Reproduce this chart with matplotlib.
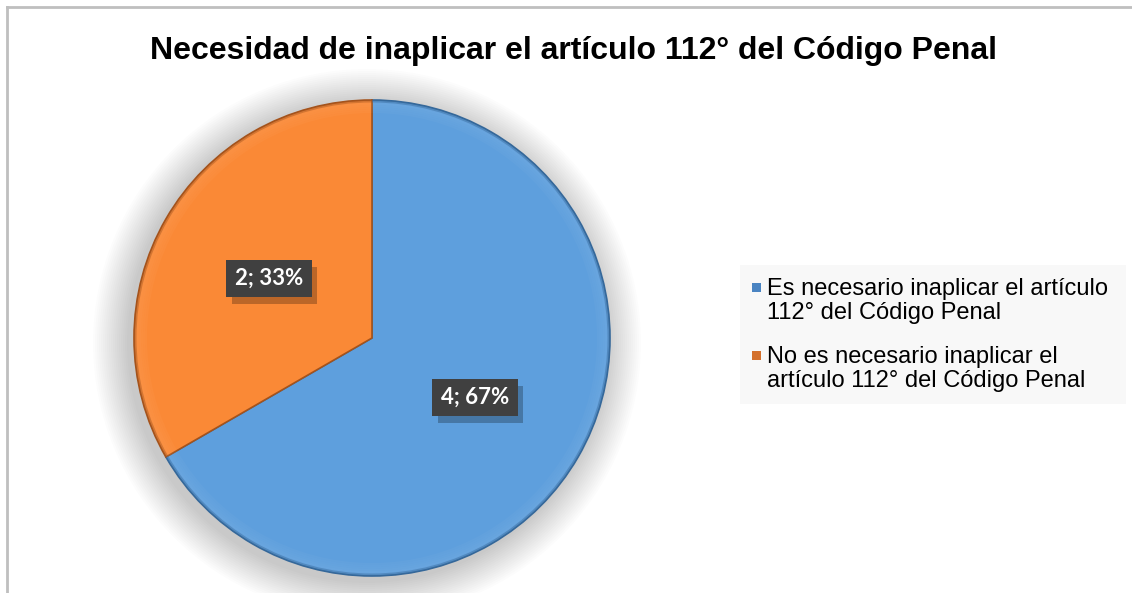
import matplotlib.pyplot as plt
import matplotlib.patheffects as pe
from matplotlib.patches import Rectangle, Circle, Wedge
import numpy as np

# Datos
etiquetas = ["Es necesario inaplicar el artículo\n112° del Código Penal",
             "No es necesario inaplicar el\nartículo 112° del Código Penal"]
valores = [4, 2]
colores = ["#5E9FDD", "#FA8936"]
colores_borde = ["#35689A", "#A4531C"]
colores_leyenda = ["#4A84C2", "#D4702C"]
titulo = "Necesidad de inaplicar el artículo 112° del Código Penal"

W, H = 1132, 593
fig = plt.figure(figsize=(W / 100, H / 100), dpi=100)
ax = fig.add_axes([0, 0, 1, 1])

def Y(y):
    # pasar de coordenadas de pixel (desde arriba) a datos
    return H - y

cx, cy, r = 372, Y(338), 238

# Sombra difusa alrededor del pastel
for i in range(18):
    rr = r + 36 - i * 2
    ax.add_patch(Circle((cx - 5, cy - 5), rr, fc="#000000", ec="none",
                        alpha=0.013, zorder=1))

# Pastel
wedges, _ = ax.pie(valores, colors=colores, startangle=90, counterclock=False,
                   center=(cx, cy), radius=r, frame=True,
                   wedgeprops=dict(linewidth=1.2, zorder=2))
for w, eb in zip(wedges, colores_borde):
    w.set_edgecolor(eb)
    w.set_zorder(2)
    # bisel simple en el borde
    for k in range(6):
        ax.add_patch(Wedge((cx, cy), r - 1 - k * 2, w.theta1, w.theta2, width=2,
                           fc="white", ec="none", alpha=0.05 * (6 - k) / 6 + 0.02,
                           zorder=3))
    ax.add_patch(Wedge((cx, cy), r, w.theta1, w.theta2, width=2.5,
                       fc=eb, ec="none", alpha=0.45, zorder=3))

# Etiquetas de datos
total = sum(valores)
for w, v in zip(wedges, valores):
    ang = np.deg2rad((w.theta1 + w.theta2) / 2)
    x = cx + 0.5 * r * np.cos(ang)
    y = cy + 0.5 * r * np.sin(ang)
    txt = f"{v}; {round(100 * v / total)}%"
    t = ax.text(x, y, txt, ha="center", va="center", fontsize=16,
                fontfamily="Lato", fontweight="bold", color="white",
                bbox=dict(boxstyle="square,pad=0.38", fc="#404040", ec="none"),
                zorder=5)
    t.get_bbox_patch().set_path_effects(
        [pe.SimplePatchShadow(offset=(4, -5), shadow_rgbFace="black", alpha=0.25),
         pe.Normal()])

# Titulo
ax.text(573, Y(51), titulo, ha="center", va="center", fontsize=23,
        fontfamily="Liberation Sans", fontweight="bold", color="black")

# Leyenda
ax.add_patch(Rectangle((740, Y(404)), 386, 139, fc="#F8F8F8", ec="none", zorder=1))
pos_y = [301, 369]
for et, c, py in zip(etiquetas, colores_leyenda, pos_y):
    ax.add_patch(Rectangle((752, Y(py - 9)), 9, 9, fc=c, ec="none", zorder=2))
    ax.text(767, Y(py), et, ha="left", va="center", fontsize=17,
            fontfamily="Liberation Sans", color="black", linespacing=1.12,
            zorder=3)

# Borde del grafico
ax.plot([7, 7], [Y(7), Y(600)], color="#BFBFBF", lw=2)
ax.plot([7, 1140], [Y(7), Y(7)], color="#BFBFBF", lw=2)

ax.set_xlim(0, W)
ax.set_ylim(0, H)
ax.set_aspect("equal")
ax.axis("off")

fig.savefig("out.png", dpi=100)
